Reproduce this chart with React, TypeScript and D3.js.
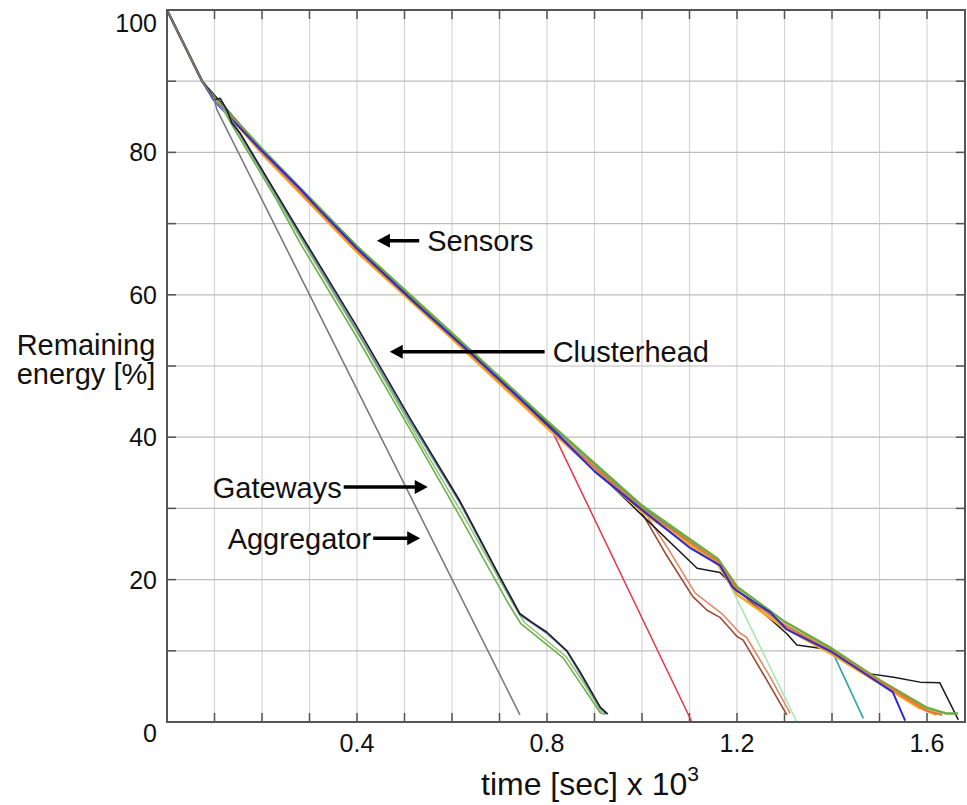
import React from 'react';
import * as d3 from 'd3';

// time in 10^3 s, remaining energy in %
type Pt = [number, number];

const sensorRed: Pt[] = [[0, 100], [0.074, 90], [0.2, 80.2], [0.4, 66.5], [0.6, 54.3], [0.81, 41], [1.105, 0]];
const sensorBrown: Pt[] = [[0, 100], [0.074, 90], [0.2, 80.2], [0.4, 66.5], [0.6, 54], [0.8, 41.8], [0.996, 29.8], [1.05, 23.6], [1.107, 17.6], [1.137, 15.7], [1.164, 14.7], [1.2, 12], [1.213, 11.5], [1.26, 6.2], [1.305, 1]];
const sensorSalmon: Pt[] = [[0, 100], [0.074, 90], [0.2, 80.2], [0.4, 66.5], [0.6, 54], [0.8, 41.8], [1.0, 30], [1.06, 23.8], [1.112, 18.1], [1.17, 15.1], [1.206, 12.5], [1.22, 11.9], [1.27, 6.3], [1.312, 1.2]];
const sensorLightGreen: Pt[] = [[0, 100], [0.074, 90], [0.2, 80.4], [0.4, 66.8], [0.6, 54.5], [0.8, 42.2], [1.0, 30.2], [1.16, 22.5], [1.196, 17.8], [1.326, 0]];
const sensorTeal: Pt[] = [[0, 100], [0.074, 90], [0.2, 80.4], [0.4, 66.8], [0.6, 54.5], [0.8, 42.2], [1.0, 30.2], [1.16, 22.5], [1.2, 18.6], [1.3, 13.6], [1.4, 10], [1.466, 0.5]];
const sensorBlack: Pt[] = [[0, 100], [0.074, 90], [0.2, 80.3], [0.4, 66.6], [0.6, 54.3], [0.8, 42], [0.996, 29.3], [1.116, 21.6], [1.164, 21], [1.2, 18.6], [1.305, 12.4], [1.326, 10.8], [1.36, 10.5], [1.4, 10.1], [1.43, 8.7], [1.466, 6.9], [1.53, 6.3], [1.585, 5.6], [1.627, 5.5], [1.666, 0.3]];
const sensorOrange: Pt[] = [[0, 100], [0.074, 90], [0.1, 87.5], [0.2, 79.8], [0.4, 66.0], [0.6, 53.8], [0.8, 41.3], [1.0, 29.5], [1.16, 22.1], [1.2, 17.9], [1.3, 13.2], [1.4, 9.5], [1.5, 5.4], [1.58, 2.1], [1.62, 1]];
const sensorGreen: Pt[] = [[0, 100], [0.074, 90], [0.1, 87.7], [0.2, 80.5], [0.4, 66.8], [0.6, 54.6], [0.8, 42.3], [1.0, 30.4], [1.16, 22.9], [1.2, 19.0], [1.3, 14.1], [1.4, 10.3], [1.5, 5.9], [1.6, 2.0], [1.64, 1.2], [1.665, 1.2]];
const sensorRust: Pt[] = [[0, 100], [0.074, 90], [0.1, 87.6], [0.2, 80.1], [0.4, 66.3], [0.6, 54.1], [0.8, 41.7], [1.0, 29.9], [1.16, 22.5], [1.2, 18.5], [1.3, 13.6], [1.4, 9.9], [1.5, 5.7], [1.6, 1.6], [1.632, 1]];
const sensorBlue: Pt[] = [[0, 100], [0.074, 90], [0.098, 87.4], [0.12, 85.8], [0.16, 83], [0.2, 80.2], [0.28, 74.9], [0.32, 72], [0.4, 66.5], [0.526, 58.6], [0.638, 51.9], [0.743, 45.4], [0.834, 39.6], [0.9, 35.2], [0.996, 30], [1.1, 24.5], [1.164, 22], [1.19, 19], [1.2, 18.4], [1.27, 15.4], [1.305, 13], [1.4, 9.8], [1.46, 7.2], [1.528, 4.2], [1.554, 0.2]];

const gatewayGreen: Pt[] = [[0, 100], [0.074, 90], [0.1, 87.6], [0.12, 85.8], [0.139, 83.6], [0.231, 73.3], [0.28, 67.3], [0.4, 54], [0.522, 39.9], [0.62, 28.5], [0.72, 16.5], [0.745, 13.8], [0.834, 9], [0.87, 5.5], [0.912, 1.3], [0.922, 1.1]];
const gatewayGreen2: Pt[] = [[0, 100], [0.074, 90], [0.1, 87.6], [0.13, 85], [0.145, 83.4], [0.24, 72.6], [0.29, 66.9], [0.41, 53.6], [0.53, 39.6], [0.63, 28.3], [0.73, 16.4], [0.752, 14], [0.84, 9.2], [0.875, 5.7], [0.915, 1.4]];
const clusterSlate: Pt[] = [[0, 100], [0.074, 90], [0.09, 88.7], [0.1, 87.2], [0.126, 85.8], [0.154, 82.5], [0.28, 68.4], [0.4, 55], [0.512, 42.2], [0.617, 30.7], [0.7, 20.3], [0.742, 15.1], [0.8, 12.4], [0.842, 9.9], [0.912, 2], [0.924, 1.1]];
const clusterBlack: Pt[] = [[0, 100], [0.074, 90], [0.088, 88.8], [0.1, 87.4], [0.112, 87.6], [0.126, 86], [0.137, 84.1], [0.154, 82.7], [0.28, 68.7], [0.4, 55.5], [0.512, 42.6], [0.617, 31], [0.7, 20.5], [0.743, 15.2], [0.771, 13.9], [0.8, 12.6], [0.842, 10], [0.87, 7], [0.912, 2.1], [0.928, 1.1]];
const aggregatorGray: Pt[] = [[0, 100], [0.074, 90], [0.1, 87.4], [0.105, 86], [0.743, 1]];

const series: { data: Pt[]; color: string; w: number }[] = [
  { data: sensorRed, color: '#e8364a', w: 1.5 },
  { data: sensorBrown, color: '#9a4a32', w: 1.6 },
  { data: sensorSalmon, color: '#e08a6a', w: 1.6 },
  { data: sensorLightGreen, color: '#a6e8b0', w: 1.6 },
  { data: sensorTeal, color: '#2aa6a6', w: 1.6 },
  { data: sensorBlack, color: '#1a1a1a', w: 1.5 },
  { data: sensorGreen, color: '#6cab3c', w: 2.4 },
  { data: sensorOrange, color: '#f5a623', w: 2.4 },
  { data: sensorRust, color: '#e07b39', w: 2.4 },
  { data: sensorBlue, color: '#2b2bd6', w: 2 },
  { data: gatewayGreen, color: '#6ab04c', w: 1.6 },
  { data: gatewayGreen2, color: '#8fbf6a', w: 1.4 },
  { data: clusterSlate, color: '#6d8aa6', w: 1.6 },
  { data: clusterBlack, color: '#1c1c2a', w: 1.6 },
  { data: aggregatorGray, color: '#7a7a7a', w: 1.6 },
];

const xGridTicks = [0.1, 0.2, 0.3, 0.4, 0.5, 0.6, 0.7, 0.8, 0.9, 1.0, 1.1, 1.2, 1.3, 1.4, 1.5, 1.6];
const xTickLabels = [0.4, 0.8, 1.2, 1.6];
const yGridTicks = [10, 20, 30, 40, 50, 60, 70, 80, 90];
const yTickLabels = [0, 20, 40, 60, 80, 100];

// annotations: text, arrow tail/tip (time), energy level, side of text
const annotations = [
  { text: 'Sensors', tail: 0.531, tip: 0.442, e: 67.6, side: 'right' },
  { text: 'Clusterhead', tail: 0.795, tip: 0.469, e: 52.0, side: 'right' },
  { text: 'Gateways', tail: 0.372, tip: 0.549, e: 33.0, side: 'left' },
  { text: 'Aggregator', tail: 0.434, tip: 0.533, e: 25.8, side: 'left' },
];

const W = 967;
const H = 805;
const font = '"Liberation Sans", Arial, sans-serif';

export default function App() {
  const x = d3.scaleLinear().domain([0, 1.68]).range([167, 965]);
  const y = d3.scaleLinear().domain([0, 100]).range([722, 10]);
  const line = d3.line<Pt>().x(d => x(d[0])).y(d => y(d[1]));
  const [x0, x1] = x.range();
  const [y0, y1] = y.range();

  return (
    <svg width={W} height={H} style={{ position: 'absolute', left: 0, top: 0, background: '#fff' }} fontFamily={font}>
      <rect x={0} y={0} width={W} height={H} fill="#fff" />
      {/* grid */}
      {xGridTicks.map(t => (
        <line key={'gx' + t} x1={x(t)} x2={x(t)} y1={y1} y2={y0} stroke="#d6d6d6" strokeWidth={1.2} />
      ))}
      {yGridTicks.map(t => (
        <line key={'gy' + t} x1={x0} x2={x1} y1={y(t)} y2={y(t)} stroke="#bdbdbd" strokeWidth={1.2} />
      ))}
      {/* ticks (inside, all four sides) */}
      {xGridTicks.map(t => (
        <g key={'tx' + t} stroke="#555" strokeWidth={1.5}>
          <line x1={x(t)} x2={x(t)} y1={y0} y2={y0 - 9} />
          <line x1={x(t)} x2={x(t)} y1={y1} y2={y1 + 9} />
        </g>
      ))}
      {yGridTicks.map(t => (
        <g key={'ty' + t} stroke="#555" strokeWidth={1.5}>
          <line x1={x0} x2={x0 + 9} y1={y(t)} y2={y(t)} />
          <line x1={x1} x2={x1 - 9} y1={y(t)} y2={y(t)} />
        </g>
      ))}
      {/* data lines */}
      {series.map((s, i) => (
        <path key={'s' + i} d={line(s.data) || ''} fill="none" stroke={s.color} strokeWidth={s.w} strokeLinejoin="round" />
      ))}
      {/* box */}
      <rect x={x0} y={y1} width={x1 - x0} height={y0 - y1} fill="none" stroke="#555" strokeWidth={2} />
      {/* tick labels */}
      {xTickLabels.map(t => (
        <text key={'lx' + t} x={x(t)} y={752} textAnchor="middle" fontSize={25} fill="#111">{t.toFixed(1)}</text>
      ))}
      {yTickLabels.map(t => (
        <text key={'ly' + t} x={157} y={y(t) + (t === 100 ? 22 : t === 0 ? 20 : 9)} textAnchor="end" fontSize={25} fill="#111">{t}</text>
      ))}
      {/* axis titles */}
      <text x={590} y={795} textAnchor="middle" fontSize={32} fill="#111">
        time [sec] x 10<tspan fontSize={21} dy={-14}>3</tspan>
      </text>
      <text x={86} y={355} textAnchor="middle" fontSize={29} fill="#111">Remaining</text>
      <text x={86} y={384} textAnchor="middle" fontSize={29} fill="#111">energy [%]</text>
      {/* annotations */}
      {annotations.map(a => {
        const yy = y(a.e);
        const tx = x(a.tail);
        const tp = x(a.tip);
        const dir = tp < tx ? 1 : -1;
        return (
          <g key={a.text}>
            <line x1={tx} x2={tp + dir * 10} y1={yy} y2={yy} stroke="#000" strokeWidth={3.5} />
            <path d={`M${tp},${yy} L${tp + dir * 13},${yy - 7} L${tp + dir * 13},${yy + 7} Z`} fill="#000" />
            <text
              x={a.side === 'right' ? tx + 8 : tx - 2}
              y={yy + 10.5}
              textAnchor={a.side === 'right' ? 'start' : 'end'}
              fontSize={29}
              fill="#111"
            >
              {a.text}
            </text>
          </g>
        );
      })}
    </svg>
  );
}
